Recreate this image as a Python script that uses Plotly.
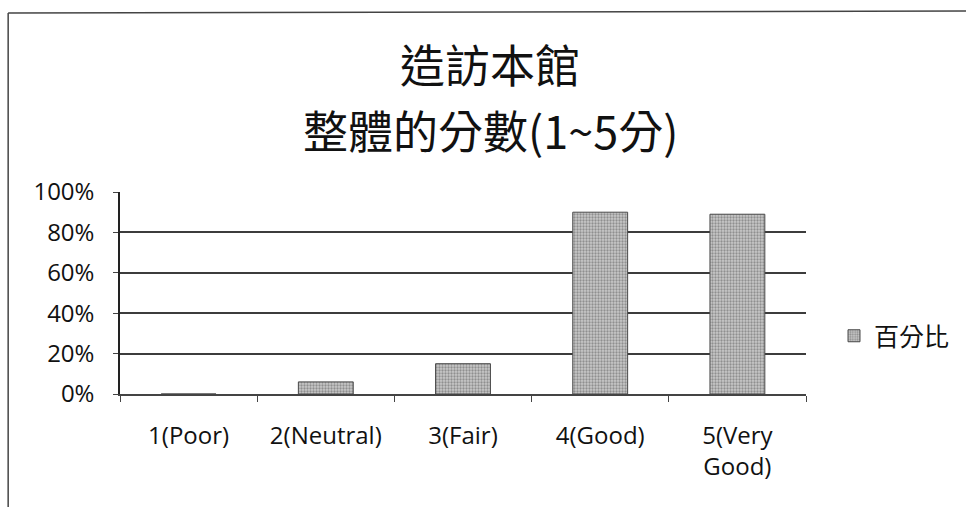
import plotly.graph_objects as go

# Survey results: overall rating of the visit (1-5)
categories = ["1(Poor)", "2(Neutral)", "3(Fair)", "4(Good)", "5(Very<br>Good)"]
percent = [0, 6, 15, 90, 89]
series_name = "百分比"
title_lines = ["造訪本館", "整體的分數(1~5分)"]
y_ticks = [0, 20, 40, 60, 80, 100]
y_tick_text = ["0%", "20%", "40%", "60%", "80%", "100%"]

W, H = 966, 507
L, R, T, B = 120, 159, 192, 113
plot_w, plot_h = W - L - R, H - T - B


def px_x(px):
    return (px - L) / plot_w


def px_y(py):
    return (H - B - py) / plot_h


latin = "Open Sans"
cjk = "Noto Sans CJK TC"

fig = go.Figure(
    go.Bar(
        x=categories,
        y=percent,
        name=series_name,
        showlegend=True,
        width=0.4,
        marker=dict(
            color="#b0b0b0",
            line=dict(color="#4a4a4a", width=1),
            pattern=dict(shape=".", fgcolor="#555555", bgcolor="#c8c8c8",
                         size=3, solidity=0.45),
        ),
    )
)

fig.update_layout(
    width=W,
    height=H,
    margin=dict(l=L, r=R, t=T, b=B),
    paper_bgcolor="white",
    plot_bgcolor="white",
    legend=dict(
        x=px_x(834),
        y=px_y(336),
        xanchor="left",
        yanchor="middle",
        font=dict(family=f"{cjk}, {latin}", size=25, color="#111111"),
        bgcolor="rgba(0,0,0,0)",
    ),
    font=dict(family=latin, color="#111111"),
)

# Chart title, one annotation per line
for text, cy in zip(title_lines, [63, 129]):
    fig.add_annotation(
        text=text, xref="paper", yref="paper",
        x=px_x(491), y=px_y(cy), xanchor="center", yanchor="middle",
        showarrow=False,
        font=dict(family=f"{cjk}, {latin}", size=45, color="#111111"),
    )

fig.update_yaxes(
    range=[0, 100],
    tickvals=y_ticks,
    ticktext=y_tick_text,
    tickfont=dict(family=latin, size=24, color="#111111"),
    showgrid=True,
    gridcolor="#3c3c3c",
    gridwidth=1.5,
    showline=True,
    linecolor="#222222",
    linewidth=1.5,
    ticks="outside",
    ticklen=5,
    tickcolor="#444444",
    zeroline=False,
    ticklabelstandoff=14,
)

fig.update_xaxes(
    tickfont=dict(family=latin, size=24, color="#111111"),
    showline=True,
    linecolor="#444444",
    linewidth=1.5,
    ticks="outside",
    tickson="boundaries",
    ticklen=6,
    tickcolor="#444444",
    showgrid=False,
    ticklabelstandoff=19,
)

# Chart frame (top and left edges)
fig.add_shape(type="line", xref="paper", yref="paper",
              x0=px_x(8), x1=px_x(W + 5), y0=px_y(13), y1=px_y(11),
              line=dict(color="#444444", width=1.5))
fig.add_shape(type="line", xref="paper", yref="paper",
              x0=px_x(8), x1=px_x(8), y0=px_y(13), y1=px_y(H + 5),
              line=dict(color="#444444", width=1.5))

fig.write_html("out.html")
